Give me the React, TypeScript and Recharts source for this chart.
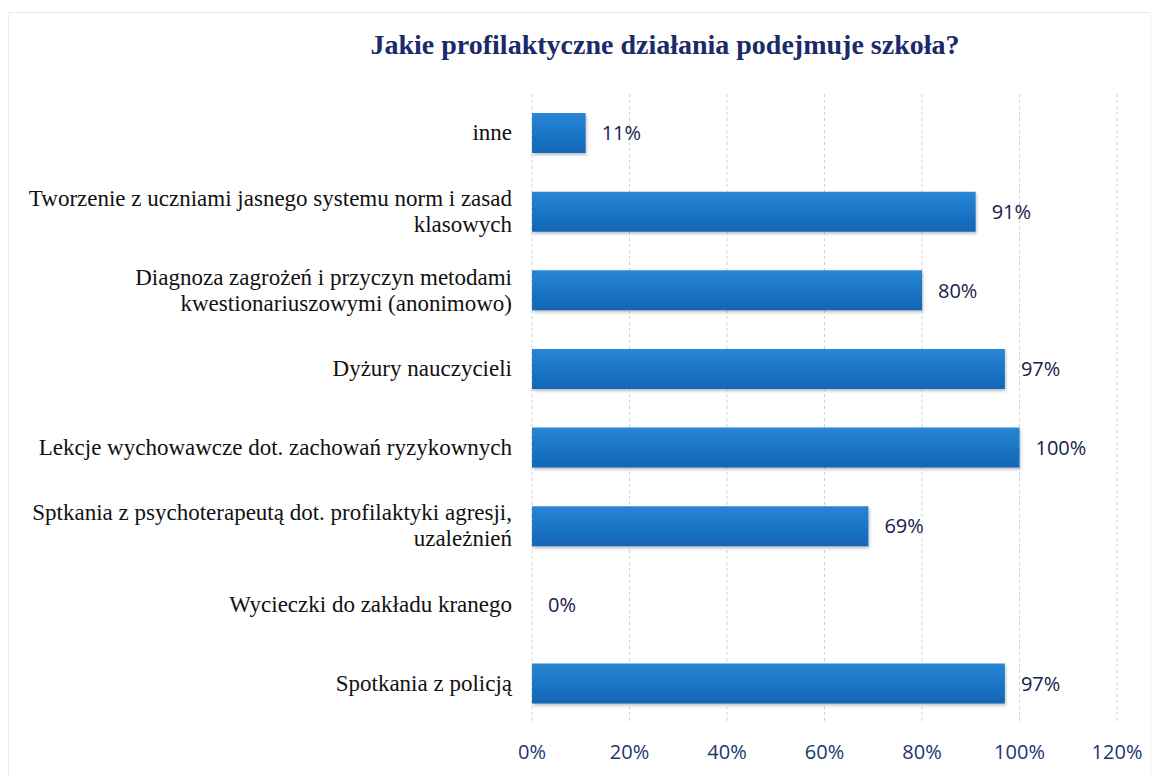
import { ComposedChart, Bar, Scatter, XAxis, YAxis, CartesianGrid } from "recharts";

const categories = [
  "inne",
  "Tworzenie z uczniami jasnego systemu norm i zasad\nklasowych",
  "Diagnoza zagrożeń i przyczyn metodami\nkwestionariuszowymi (anonimowo)",
  "Dyżury nauczycieli",
  "Lekcje wychowawcze dot. zachowań ryzykownych",
  "Sptkania z psychoterapeutą dot. profilaktyki agresji,\nuzależnień",
  "Wycieczki do zakładu kranego",
  "Spotkania z policją",
];
const shares = [0.11, 0.91, 0.8, 0.97, 1.0, 0.69, 0, 0.97];
const xTicks = [0, 0.2, 0.4, 0.6, 0.8, 1.0, 1.2];

const TITLE = "Jakie profilaktyczne działania podejmuje szkoła?";
const NAVY = "#16214a";
const pct = (v: number) => `${Math.round(v * 100)}%`;

const data = categories.map((name, i) => ({ name, value: shares[i] }));

function CategoryTick(props: any) {
  const { x, y, payload } = props;
  const lines = String(payload.value).split("\n");
  const lh = 26;
  const start = -((lines.length - 1) * lh) / 2;
  return (
    <text
      x={x}
      y={y}
      textAnchor="end"
      fill="#111"
      fontFamily="'Liberation Serif', 'Times New Roman', serif"
      fontSize={23}
    >
      {lines.map((line, i) => (
        <tspan key={i} x={x} dy={i === 0 ? start + 7 : lh}>
          {line}
        </tspan>
      ))}
    </text>
  );
}

// value label drawn at the end of each bar (a scatter point sits there, also for 0%)
function ValueLabel(props: any) {
  const { cx, cy, payload } = props;
  return (
    <text
      x={Number(cx) + 16}
      y={Number(cy)}
      dy="0.35em"
      fill={NAVY}
      fontSize={20}
      fontFamily="'Open Sans', sans-serif"
    >
      {pct(Number(payload.value))}
    </text>
  );
}

export default function App() {
  return (
    <div style={{ position: "relative", width: 1157, height: 776, background: "#fff", overflow: "hidden" }}>
      <style>{`body{margin:0}`}</style>
      <div
        style={{
          position: "absolute",
          left: 8,
          top: 12,
          width: 1141,
          height: 780,
          borderTop: "1px dotted #cdd5d9",
          borderLeft: "1px dotted #cde0dc",
          borderRight: "1px dotted #dde3e6",
        }}
      />
      <div
        style={{
          position: "absolute",
          left: 265,
          top: 29,
          width: 800,
          textAlign: "center",
          lineHeight: "32px",
          fontFamily: "'Liberation Serif', 'Times New Roman', serif",
          fontWeight: "bold",
          fontSize: 28,
          color: "#1b2a68",
        }}
      >
        {TITLE}
      </div>
      <div style={{ position: "absolute", left: 0, top: 0 }}>
        <ComposedChart
          width={1157}
          height={776}
          data={data}
          layout="vertical"
          barSize={40}
          margin={{ top: 94, right: 40, bottom: 23, left: 0 }}
        >
          <defs>
            <linearGradient id="barFill" x1="0" y1="0" x2="0" y2="1">
              <stop offset="0%" stopColor="#2a86d4" />
              <stop offset="55%" stopColor="#1a74c6" />
              <stop offset="100%" stopColor="#1466b4" />
            </linearGradient>
            <filter id="barShadow" x="-5%" y="-20%" width="110%" height="150%">
              <feDropShadow dx="1" dy="2" stdDeviation="1.5" floodColor="#30405a" floodOpacity="0.35" />
            </filter>
          </defs>
          <CartesianGrid horizontal={false} stroke="#c3d7e2" strokeDasharray="3 3" />
          <XAxis
            type="number"
            domain={[0, 1.2]}
            ticks={xTicks}
            tickFormatter={pct}
            axisLine={false}
            tickLine={false}
            tickSize={0}
            tickMargin={22}
            height={30}
            tick={{ fill: "#1d3570", fontSize: 20, fontFamily: "'Open Sans', sans-serif" }}
          />
          <YAxis
            type="category"
            dataKey="name"
            width={532}
            axisLine={false}
            tickLine={false}
            tickSize={0}
            tickMargin={20}
            interval={0}
            tick={<CategoryTick />}
          />
          <Bar dataKey="value" fill="url(#barFill)" filter="url(#barShadow)" isAnimationActive={false} />
          <Scatter dataKey="value" shape={<ValueLabel />} isAnimationActive={false} />
        </ComposedChart>
      </div>
    </div>
  );
}
